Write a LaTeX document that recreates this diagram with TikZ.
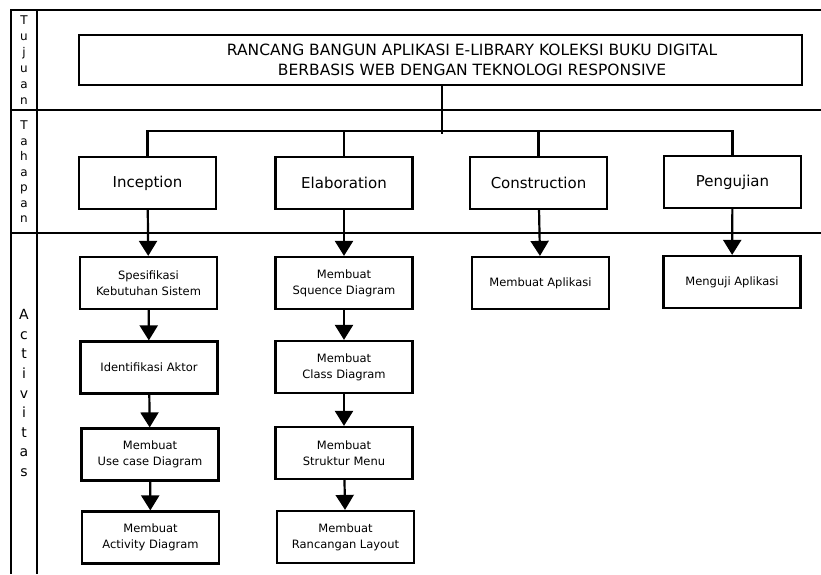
\documentclass[tikz,border=0pt]{standalone}
\usepackage{fontspec}
\setmainfont{DejaVu Sans}
\usetikzlibrary{arrows.meta}

\begin{document}
\begin{tikzpicture}[x=1pt,y=1pt,line width=2.2pt,
  box/.style={draw,minimum width=137pt,minimum height=52pt,align=center,inner sep=0pt},
  phase/.style={box,font=\fontsize{15}{17}\selectfont},
  act/.style={box,font=\fontsize{11.5}{16}\selectfont},
  arr/.style={-{Triangle[width=18pt,length=15pt]}},
  side/.style={align=center,inner sep=0pt}]
  \useasboundingbox (0,0) rectangle (821,574);

  % frame and rows
  \draw (821,564) -- (11,564) -- (11,0);
  \draw (37,564) -- (37,0);
  \draw (11,464) -- (821,464);
  \draw (11,341) -- (821,341);

  \node[side,font=\fontsize{12}{16}\selectfont] (tujuan) at (24,514) {T\\u\\j\\u\\a\\n};
  \node[side,font=\fontsize{12}{15.5}\selectfont] (tahapan) at (24,402) {T\\a\\h\\a\\p\\a\\n};
  \node[side,font=\fontsize{14}{19.6}\selectfont] (aktivitas) at (24,181) {A\\c\\t\\i\\v\\i\\t\\a\\s};

  % tujuan
  \node[draw,minimum width=723pt,minimum height=50pt] (judul) at (440.5,514) {};
  \node[align=center,font=\fontsize{15.5}{20}\selectfont] (judultxt) at (472,514)
    {RANCANG BANGUN APLIKASI E-LIBRARY KOLEKSI BUKU DIGITAL\\
     BERBASIS WEB DENGAN TEKNOLOGI RESPONSIVE};

  % tahapan
  \node[phase] (inception) at (147.5,391) {Inception};
  \node[phase] (elaboration) at (344,391) {Elaboration};
  \node[phase] (construction) at (538.5,391) {Construction};
  \node[phase] (pengujian) at (732.5,392) {Pengujian};

  \coordinate (bus) at (442,443);
  \draw (judul.south -| bus) -- ++(0,-48);
  \draw (inception.north) |- (bus) -| (pengujian.north);
  \draw (elaboration.north) -- (elaboration.north |- bus);
  \draw (construction.north) -- (construction.north |- bus);

  % aktivitas
  \node[act] (spek) at (148.5,291) {Spesifikasi\\Kebutuhan Sistem};
  \node[act] (aktor) at (149,206.5) {Identifikasi Aktor};
  \node[act] (usecase) at (150,119.5) {Membuat\\Use case Diagram};
  \node[act] (activity) at (150.5,36.5) {Membuat\\Activity Diagram};

  \node[act] (sequence) at (344,291) {Membuat\\Squence Diagram};
  \node[act] (class) at (344,207) {Membuat\\Class Diagram};
  \node[act] (menu) at (344,121) {Membuat\\Struktur Menu};
  \node[act] (layout) at (345.5,37) {Membuat\\Rancangan Layout};

  \node[act] (aplikasi) at (540.5,291) {Membuat Aplikasi};
  \node[act] (uji) at (732,292) {Menguji Aplikasi};

  \path[arr] (inception) edge (spek);
  \path[arr] (spek) edge (aktor);
  \path[arr] (aktor) edge (usecase);
  \path[arr] (usecase) edge (activity);
  \path[arr] (elaboration) edge (sequence);
  \path[arr] (sequence) edge (class);
  \path[arr] (class) edge (menu);
  \path[arr] (menu) edge (layout);
  \path[arr] (construction) edge (aplikasi);
  \path[arr] (pengujian) edge (uji);
\end{tikzpicture}
\end{document}
